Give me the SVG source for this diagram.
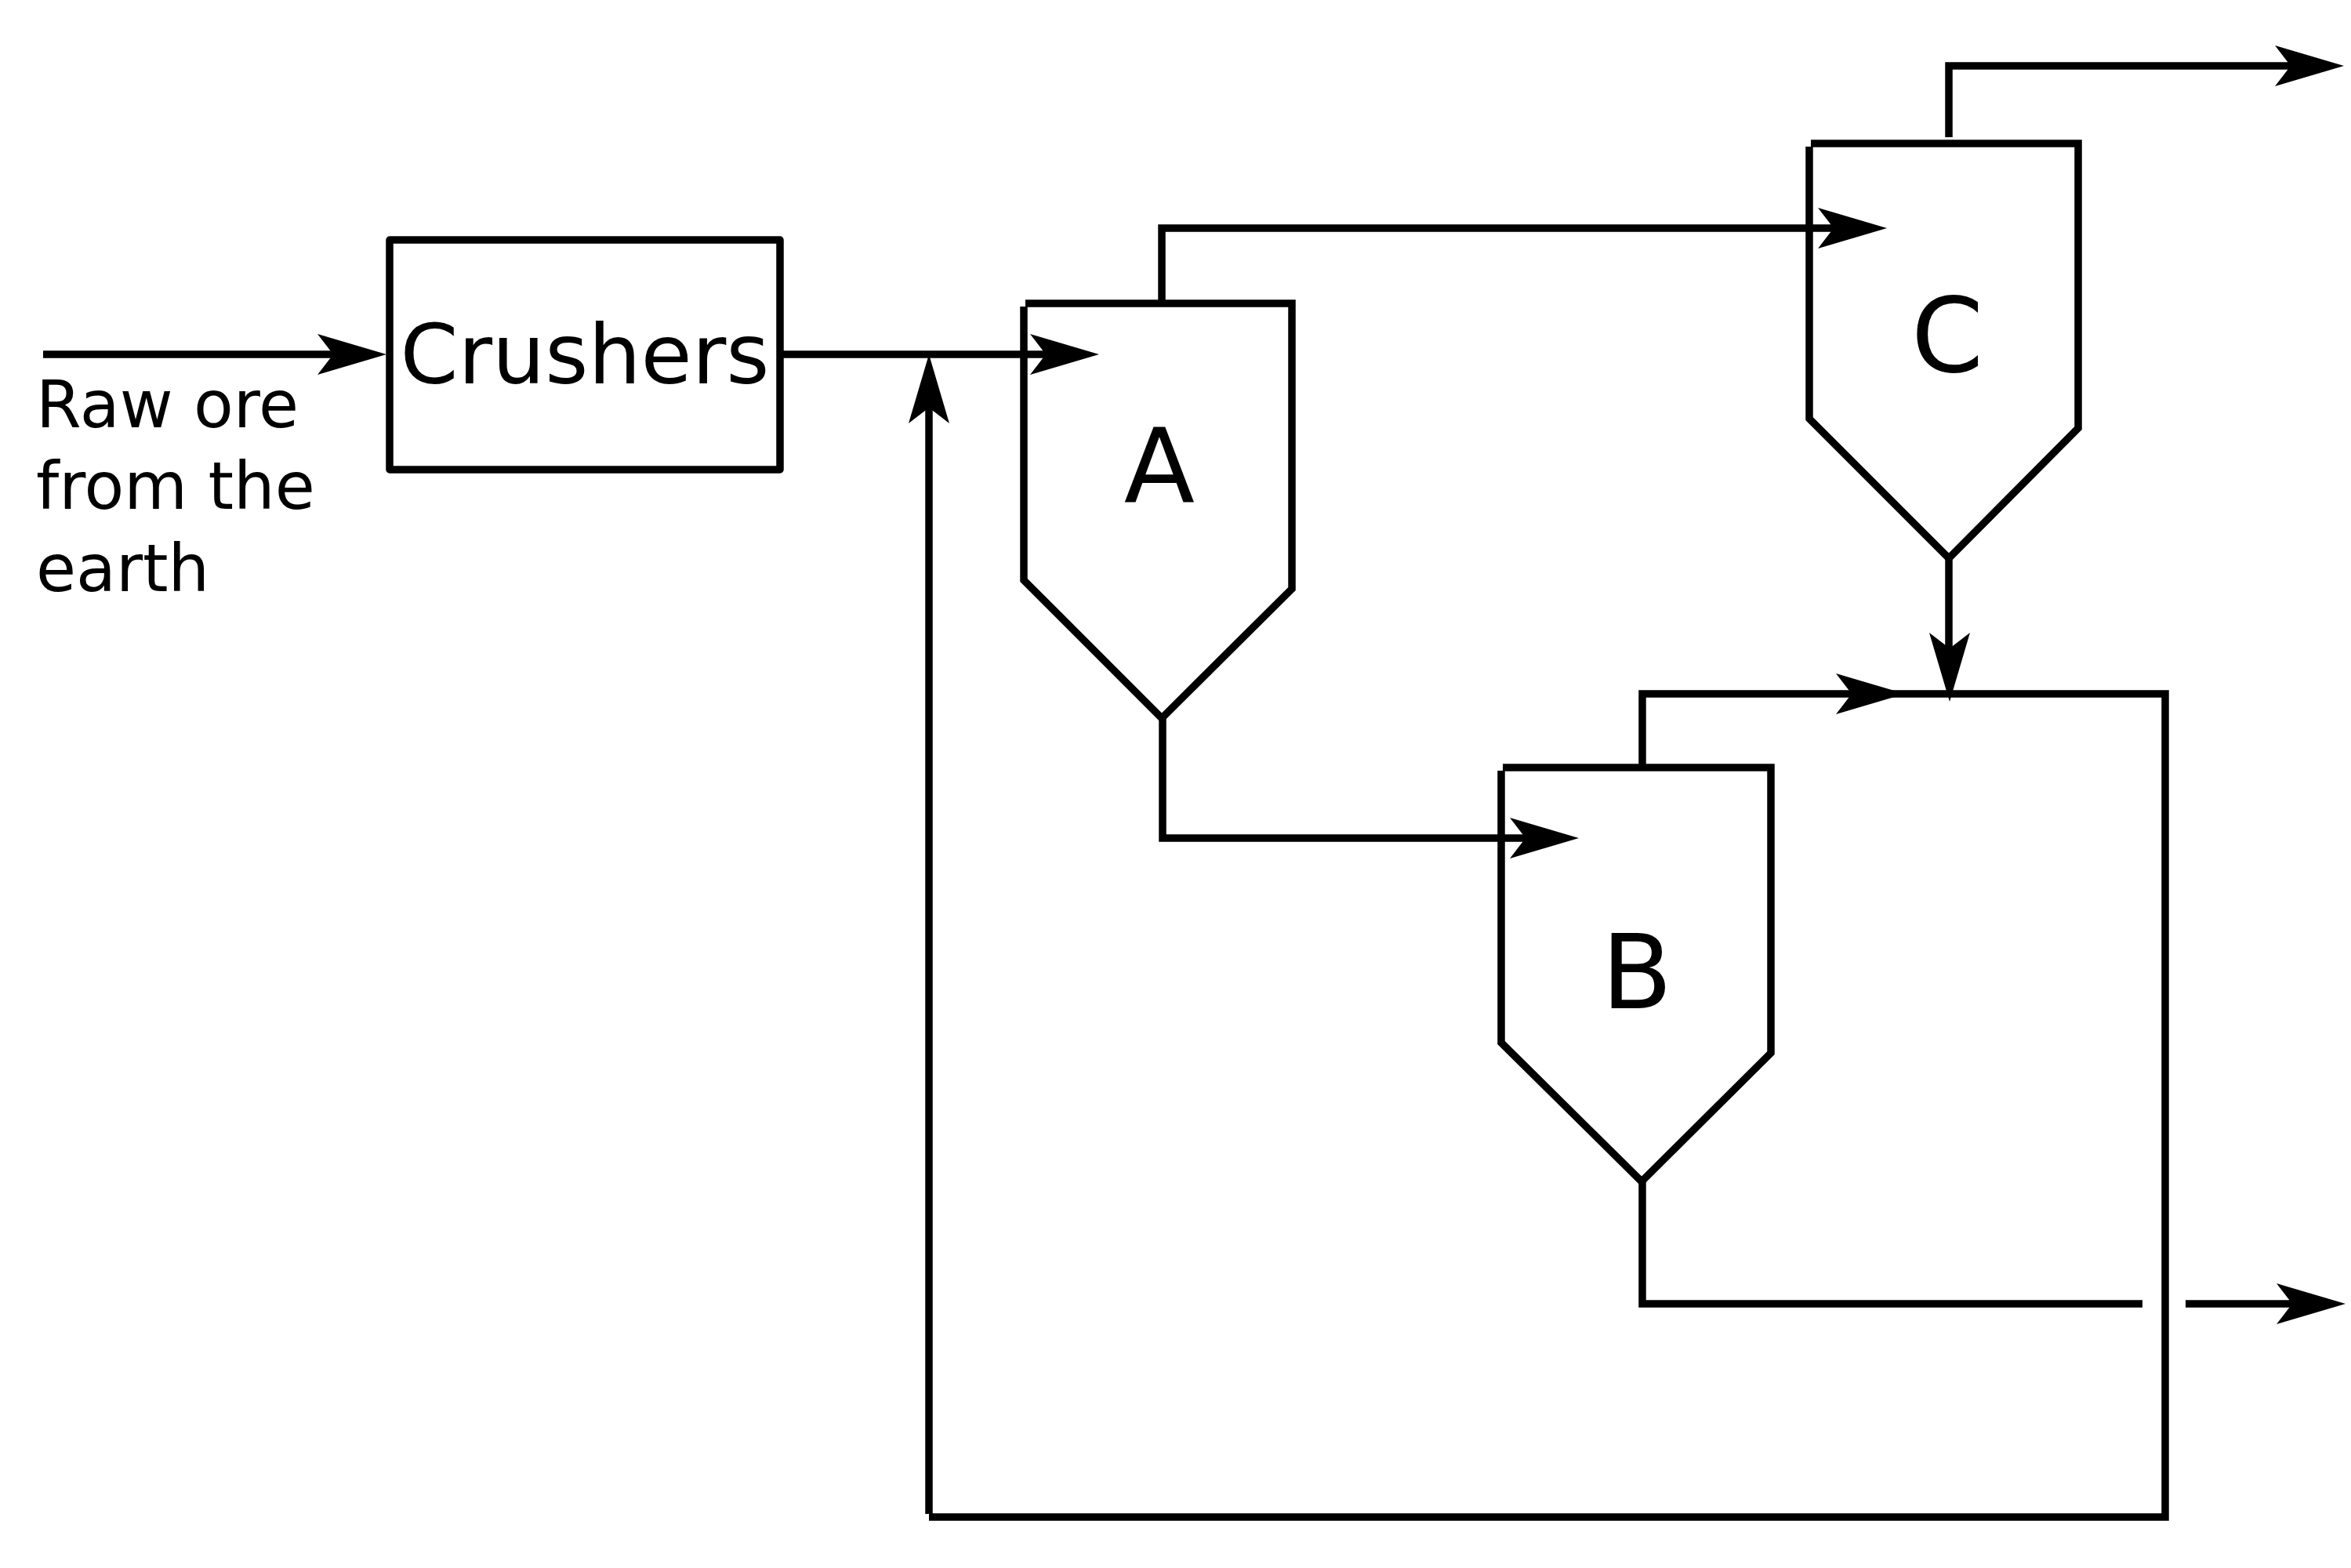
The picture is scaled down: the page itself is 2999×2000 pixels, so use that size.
<svg xmlns="http://www.w3.org/2000/svg" xmlns:xlink="http://www.w3.org/1999/xlink" width="2999" height="2000" viewBox="0 0 2999 2000">
<style>
.ln{fill:none;stroke:#000;stroke-width:9.5;stroke-linejoin:miter}
.box{fill:none;stroke:#000;stroke-width:9.5;stroke-linejoin:round}
.t{font-family:"DejaVu Sans","Liberation Sans",sans-serif;fill:#000}
.big{font-size:132px;text-anchor:middle}
</style>
<defs>
<path id="ah" d="M0,0 L-88,-26 L-68,0 L-88,26 Z" fill="#000"/>
</defs>
<rect width="2999" height="2000" fill="#fff"/>
<g id="raw-ore-label">
<text class="t" font-size="83" x="46"><tspan x="46" y="545">Raw ore</tspan><tspan x="46" y="649">from the</tspan><tspan x="46" y="754">earth</tspan></text>
</g>
<g id="crushers">
<rect class="box" x="497" y="306" width="498" height="293"/>
<text class="t" font-size="106" x="746" y="489" text-anchor="middle">Crushers</text>
</g>
<g id="hopperA">
<path class="ln" d="M1308,387 H1648 V751 L1482,916 L1306,740 V391"/>
<text class="t big" x="1479" y="641">A</text>
</g>
<g id="hopperC">
<path class="ln" d="M2310,183 H2651 V546 L2486,712 L2308,534 V187"/>
<text class="t big" x="2484" y="474">C</text>
</g>
<g id="hopperB">
<path class="ln" d="M1917,979 H2259 V1343 L2094,1507 L1915,1330 V983"/>
<text class="t big" x="2088" y="1286">B</text>
</g>
<g id="connectors">
<path class="ln" d="M55,452 H440"/>
<use xlink:href="#ah" transform="translate(493,452)"/>
<path class="ln" d="M995,452 H1350"/>
<use xlink:href="#ah" transform="translate(1402,452)"/>
<path class="ln" d="M1482,385 V291 H2350"/>
<use xlink:href="#ah" transform="translate(2407,291)"/>
<path class="ln" d="M2486,175 V84 H2935"/>
<use xlink:href="#ah" transform="translate(2990,84)"/>
<path class="ln" d="M2486,712 V840"/>
<use xlink:href="#ah" transform="translate(2487,895) rotate(90)"/>
<path class="ln" d="M2095,978 V885 H2762 V1935 H1185"/>
<path class="ln" d="M1185,1931 V510"/>
<use xlink:href="#ah" transform="translate(2430,885)"/>
<use xlink:href="#ah" transform="translate(1185,452) rotate(-90)"/>
<path class="ln" d="M1483,916 V1069 H1960"/>
<use xlink:href="#ah" transform="translate(2014,1069)"/>
<path class="ln" d="M2095,1506 V1663 H2733"/>
<path class="ln" d="M2788,1663 H2940"/>
<use xlink:href="#ah" transform="translate(2992,1663)"/>
</g>
</svg>
